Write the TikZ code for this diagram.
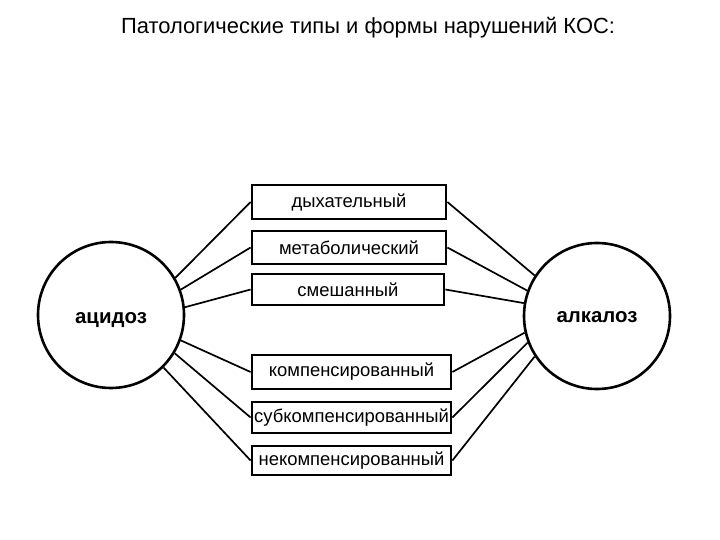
\documentclass[tikz,border=0pt]{standalone}
\usepackage{fontspec}
\setmainfont{Liberation Sans}

\begin{document}
\begin{tikzpicture}[x=1bp,y=-1bp,
        form/.style={draw,line width=2.8bp,inner sep=0pt,font=\fontsize{18.5}{21}\selectfont},
        state/.style={draw,circle,line width=2.6bp,minimum size=146bp,inner sep=0pt},
        statetext/.style={anchor=base,font=\bfseries\fontsize{20.5}{23}\selectfont},
        link/.style={line width=1.7bp}]
        \useasboundingbox (0,0) rectangle (720,540);
        \node[anchor=base,font=\fontsize{22}{26}\selectfont] (title) at (368,34) {Патологические типы и формы нарушений КОС:};
        % the two states
        \node[state] (acid) at (111,315) {};
        \node[state] (alk) at (597,316) {};
        \node[statetext] (acidtext) at (111,323) {ацидоз};
        \node[statetext] (alktext) at (597,322) {алкалоз};
        % types
        \node[form,minimum width=194bp,minimum height=34bp] (resp) at (349,202) {дыхательный};
        \node[form,minimum width=194bp,minimum height=33bp] (metab) at (349,247.5) {метаболический};
        \node[form,minimum width=192bp,minimum height=31bp] (mixed) at (348,289.5) {смешанный};
        % forms
        \node[form,minimum width=199bp,minimum height=34bp] (comp) at (351.5,372) {компенсированный};
        \node[form,minimum width=199bp,minimum height=31bp] (subc) at (351.5,417.5) {субкомпенсированный};
        \node[form,minimum width=199bp,minimum height=29bp] (decomp) at (351.5,460.5) {некомпенсированный};
        % left links
        \draw[link] (acid.30) -- (resp.west);
        \draw[link] (acid.20) -- (metab.west);
        \draw[link] (acid.6) -- (mixed.west);
        \draw[link] (acid.-20) -- (comp.west);
        \draw[link] (acid.-31) -- (subc.west);
        \draw[link] (acid.-45) -- (decomp.west);
        % right links
        \draw[link] (resp.east) -- (alk.147);
        \draw[link] (metab.east) -- (alk.160);
        \draw[link] (mixed.east) -- (alk.170);
        \draw[link] (comp.east) -- (alk.193);
        \draw[link] (subc.east) -- (alk.201);
        \draw[link] (decomp.east) -- (alk.213);
    \end{tikzpicture}
\end{document}
